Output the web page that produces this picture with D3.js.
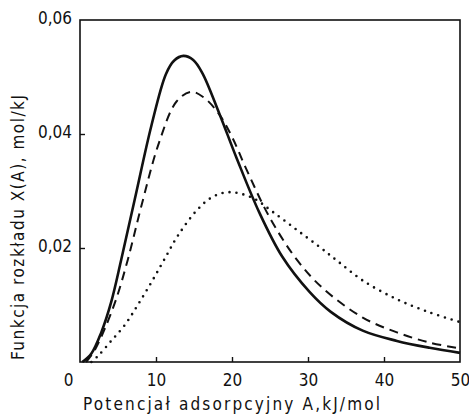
<!DOCTYPE html>
<html>
<head>
<meta charset="utf-8">
<script src="https://cdn.jsdelivr.net/npm/d3@7"></script>
<style>
  body { margin: 0; background: #fff; }
  text { font-family: "DejaVu Sans Condensed", "DejaVu Sans", sans-serif; fill: #111; }
</style>
</head>
<body>
<div class="chart"></div>
<script>
// data: A in kJ/mol, X(A) in mol/kJ
const solidA = [0.3, 1.5, 2.8, 4.1, 5.4, 7.2, 9.4, 11.3, 12.4, 13.6, 14.9, 16.1, 18.3, 20.6, 23.6, 26.6, 30.2, 33, 37.2, 41.7, 46, 50];
const solidX = [0, 0.0015, 0.0052, 0.0105, 0.0178, 0.0285, 0.0415, 0.0505, 0.0529, 0.0537, 0.053, 0.0507, 0.0437, 0.0358, 0.0262, 0.0185, 0.0123, 0.0088, 0.0055, 0.0037, 0.0025, 0.0016];

const dashA = [0.8, 1.9, 3.25, 4.8, 6.3, 8.1, 10.4, 12.7, 14.6, 16.2, 18.3, 20, 21.9, 24.9, 28.5, 31.9, 37.2, 41.7, 46, 50];
const dashX = [0, 0.002, 0.0058, 0.0112, 0.018, 0.0275, 0.0385, 0.0457, 0.0474, 0.0465, 0.0435, 0.0395, 0.0338, 0.0255, 0.018, 0.013, 0.0078, 0.0052, 0.0034, 0.0024];

const dotA = [1.5, 2.4, 4.1, 5.9, 7.6, 9.4, 11.1, 12.9, 15.5, 17.5, 19.7, 22.7, 25.3, 28.5, 31.5, 33.8, 37.2, 41.7, 46, 50];
const dotX = [0, 0.0011, 0.0037, 0.0065, 0.01, 0.014, 0.018, 0.0222, 0.0268, 0.029, 0.0298, 0.0288, 0.0264, 0.0232, 0.0202, 0.0178, 0.0143, 0.011, 0.0087, 0.007];

const xTicks = [0, 10, 20, 30, 40, 50];
const yTicks = [0.02, 0.04, 0.06];
const yTickLabels = ["0,02", "0,04", "0,06"];

const xTitle = "Potencjał adsorpcyjny A,kJ/mol";
const yTitle = "Funkcja rozkładu X(A), mol/kJ";

// plot box
const width = 469;
const height = 418;
const box = { left: 80, right: 460, top: 20, bottom: 362 };

const x = d3.scaleLinear().domain([0, 50]).range([box.left, box.right]);
const y = d3.scaleLinear().domain([0, 0.06]).range([box.bottom, box.top]);

const svg = d3.select(".chart")
  .append("svg")
  .attr("width", width)
  .attr("height", height);

svg.append("rect").attr("width", width).attr("height", height).attr("fill", "#fff");

// frame
svg.append("rect")
  .attr("x", box.left).attr("y", box.top)
  .attr("width", box.right - box.left).attr("height", box.bottom - box.top)
  .attr("fill", "none").attr("stroke", "#111").attr("stroke-width", 1.6);

// x axis, ticks pointing inward
const xAxis = svg.append("g")
  .attr("transform", "translate(0," + box.bottom + ")")
  .call(d3.axisBottom(x).tickValues(xTicks).tickSize(-5).tickPadding(12).tickFormat(d3.format("d")));
xAxis.select(".domain").remove();
xAxis.selectAll(".tick line").attr("stroke", "#111").attr("stroke-width", 1.4)
  .filter((d) => d === 0 || d === 50).remove();
xAxis.selectAll(".tick text").attr("font-size", 17).attr("dy", "0.71em")
  .attr("dx", (d) => (d === 0 ? -12 : 0));

// y axis
const yAxis = svg.append("g")
  .attr("transform", "translate(" + box.left + ",0)")
  .call(d3.axisLeft(y).tickValues(yTicks).tickSize(-5).tickPadding(8)
    .tickFormat((d, i) => yTickLabels[i]));
yAxis.select(".domain").remove();
yAxis.selectAll(".tick line").attr("stroke", "#111").attr("stroke-width", 1.4)
  .filter((d) => d === 0.06).remove();
yAxis.selectAll(".tick text").attr("font-size", 17).attr("dy", "0.2em");

// curves
const line = d3.line()
  .x((d) => x(d[0]))
  .y((d) => y(d[1]))
  .curve(d3.curveCatmullRom.alpha(0.5));

svg.append("path")
  .datum(solidA.map((a, i) => [a, solidX[i]]))
  .attr("d", line)
  .attr("fill", "none").attr("stroke", "#111").attr("stroke-width", 2.6);

svg.append("path")
  .datum(dashA.map((a, i) => [a, dashX[i]]))
  .attr("d", line)
  .attr("fill", "none").attr("stroke", "#111").attr("stroke-width", 2)
  .attr("stroke-dasharray", "9,6");

svg.append("path")
  .datum(dotA.map((a, i) => [a, dotX[i]]))
  .attr("d", line)
  .attr("fill", "none").attr("stroke", "#111").attr("stroke-width", 2.6)
  .attr("stroke-linecap", "round")
  .attr("stroke-dasharray", "0,7");

// titles
svg.append("text")
  .attr("x", 83).attr("y", 410)
  .attr("font-size", 17)
  .attr("textLength", 297).attr("lengthAdjust", "spacing")
  .text(xTitle);

svg.append("text")
  .attr("transform", "translate(24,360) rotate(-90)")
  .attr("font-size", 17)
  .attr("textLength", 265).attr("lengthAdjust", "spacing")
  .text(yTitle);
</script>
</body>
</html>
